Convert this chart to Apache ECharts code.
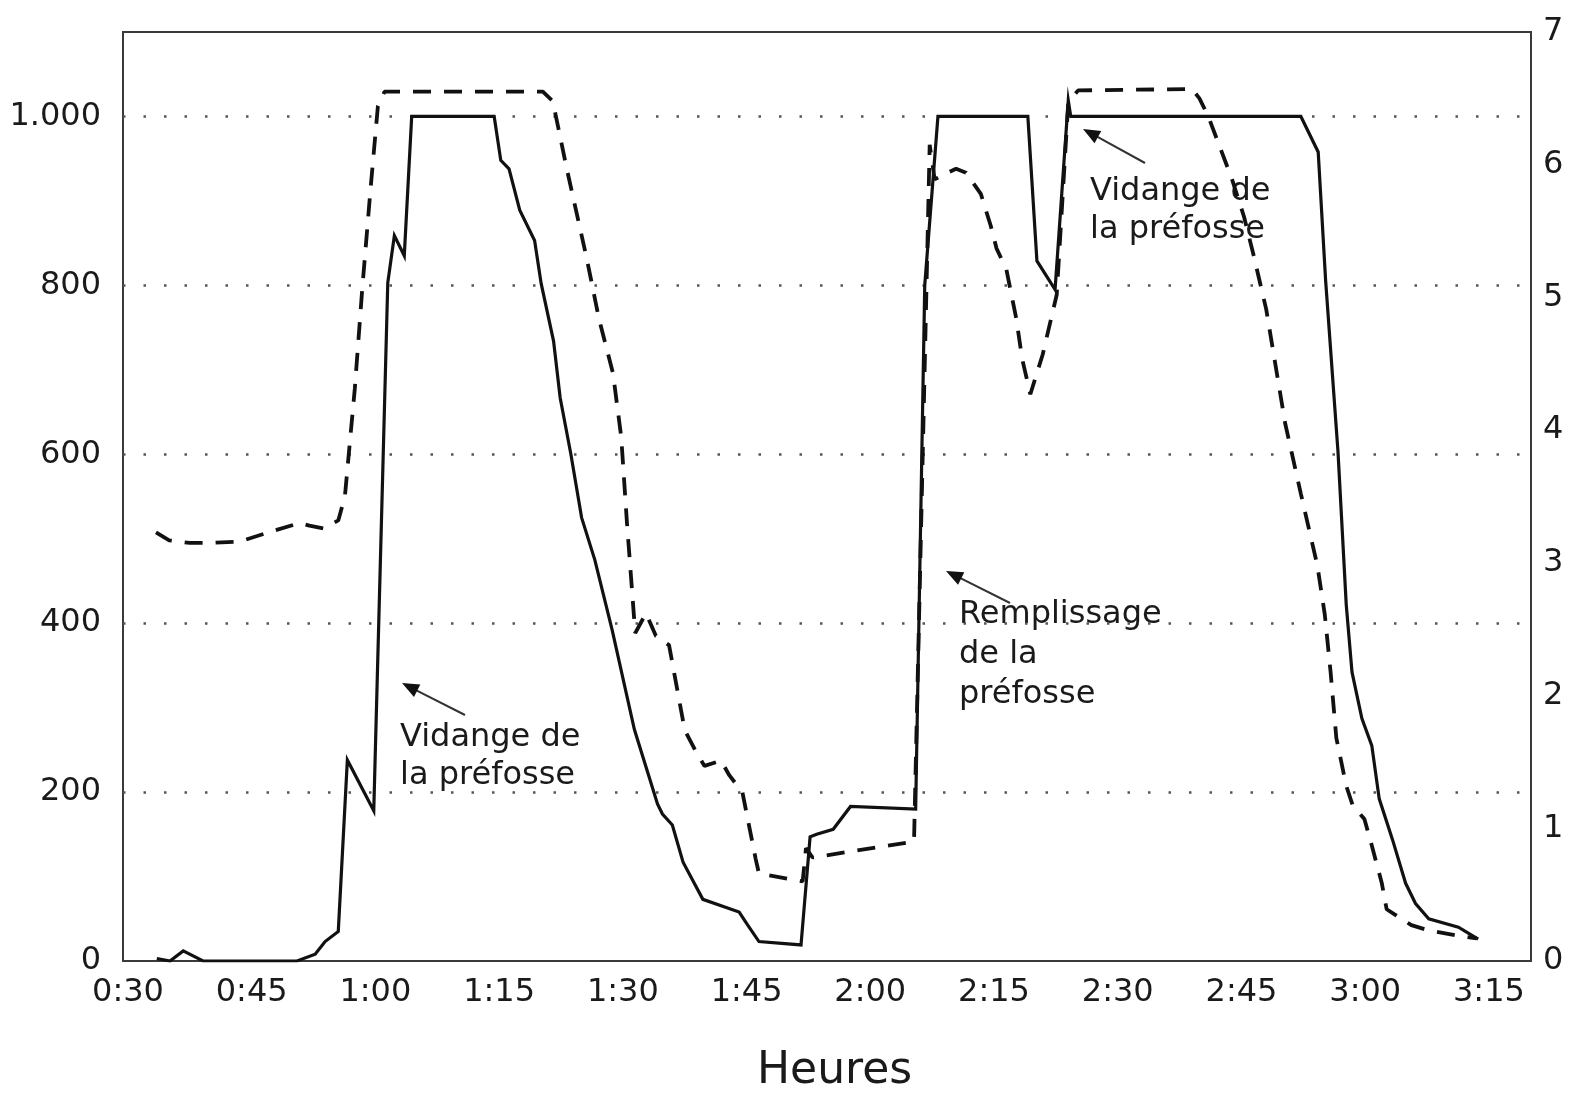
<!DOCTYPE html>
<html>
<head>
<meta charset="utf-8">
<script src="https://cdn.jsdelivr.net/npm/echarts@6/dist/echarts.min.js"></script>
<style>
  html, body { margin: 0; padding: 0; background: #fff; }
  #chart { width: 1575px; height: 1097px; }
</style>
</head>
<body>
<div id="chart"></div>
<script>
// ---- Data (time in minutes since 0:00) ----
// Solid line (left axis)
const solidTime  = [33.5, 35.1, 36.7, 39.1, 48.2, 50.5, 52.7, 53.9, 55.5, 56.6, 59.8, 61.5, 62.3, 63.5, 64.4, 74.4, 75.2, 76.2, 77.5, 79.3, 80.1, 81.6, 82.4, 83.7, 85.0, 86.6, 88.7, 91.4, 94.2, 94.8, 96.0, 97.3, 99.7, 104.1, 105.1, 106.5, 111.6, 112.7, 113.5, 115.5, 117.6, 125.5, 126.6, 128.2, 139.1, 140.2, 142.4, 144.0, 144.3, 172.2, 174.3, 175.2, 176.7, 177.7, 178.4, 179.6, 180.8, 181.7, 183.3, 184.9, 186.1, 187.7, 191.3, 193.7];
const solidValue = [3, 0, 12, 0, 0, 0, 8, 23, 35, 238, 178, 803, 859, 835, 1000, 1000, 948, 938, 889, 853, 802, 734, 667, 600, 525, 475, 392, 274, 186, 174, 161, 117, 73, 58, 43, 23, 19, 147, 150, 156, 183, 180, 800, 1000, 1000, 829, 795, 1019, 1000, 1000, 958, 806, 603, 422, 342, 287, 255, 192, 144, 92, 68, 50, 40, 26];
// Dashed line (right axis)
const dashTime  = [33.4, 35.0, 37.5, 39.5, 43.5, 47.6, 50.8, 52.0, 53.7, 55.5, 56.3, 57.5, 58.4, 59.4, 60.3, 61.1, 80.3, 81.5, 83.2, 85.6, 87.1, 88.8, 89.8, 90.5, 91.2, 91.5, 92.8, 94.0, 95.6, 97.5, 99.1, 99.9, 101.9, 102.9, 104.5, 106.1, 106.5, 111.8, 112.2, 113.0, 125.3, 127.2, 127.8, 130.4, 131.6, 133.4, 134.6, 135.3, 136.5, 137.7, 138.4, 139.4, 140.9, 142.6, 144.0, 145.2, 159.0, 159.9, 161.0, 163.8, 165.3, 166.5, 168.0, 170.3, 172.2, 174.2, 175.1, 175.8, 176.5, 177.7, 178.5, 179.9, 180.8, 182.0, 182.6, 183.6, 185.6, 187.7, 191.3, 193.5];
const dashValue = [3.23, 3.17, 3.15, 3.15, 3.16, 3.24, 3.30, 3.28, 3.26, 3.32, 3.5, 4.31, 5.06, 5.81, 6.44, 6.55, 6.55, 6.48, 5.97, 5.30, 4.84, 4.43, 3.95, 3.30, 2.72, 2.47, 2.62, 2.45, 2.38, 1.74, 1.55, 1.47, 1.51, 1.40, 1.27, 0.77, 0.66, 0.60, 0.85, 0.78, 0.90, 6.15, 5.89, 5.97, 5.94, 5.78, 5.54, 5.37, 5.21, 4.84, 4.54, 4.27, 4.57, 5.02, 6.47, 6.56, 6.57, 6.50, 6.36, 5.90, 5.61, 5.31, 4.91, 4.05, 3.52, 2.98, 2.61, 2.18, 1.68, 1.32, 1.17, 1.07, 0.87, 0.59, 0.39, 0.35, 0.27, 0.23, 0.19, 0.17];
// Tick labels
const xTickMinutes = [30, 45, 60, 75, 90, 105, 120, 135, 150, 165, 180, 195];
const leftTicks = [0, 200, 400, 600, 800, 1000];
const rightTicks = [0, 1, 2, 3, 4, 5, 6, 7];
const xAxisTitle = 'Heures';
const notes = [
  { text: 'Vidange de\nla préfosse', lineH: 38 },
  { text: 'Remplissage\nde la\npréfosse', lineH: 40 },
  { text: 'Vidange de\nla préfosse', lineH: 38 }
];

const FONT = '"DejaVu Sans", sans-serif';
const INK = '#1a1a1a';

function fmtTime(m) {
  const h = Math.floor(m / 60), mm = Math.round(m % 60);
  return h + ':' + String(mm).padStart(2, '0');
}
function fmtLeft(v) {
  if (leftTicks.indexOf(v) < 0) return '';
  return v >= 1000 ? String(v).replace(/\B(?=(\d{3})+(?!\d))/g, '.') : String(v);
}

function arrow(x1, y1, x2, y2) {
  const dx = x2 - x1, dy = y2 - y1, L = Math.hypot(dx, dy);
  const ux = dx / L, uy = dy / L, hl = 17, hw = 7;
  const bx = x2 - ux * hl, by = y2 - uy * hl;
  return [
    { type: 'line', shape: { x1: x1, y1: y1, x2: bx + ux * 2, y2: by + uy * 2 }, style: { stroke: '#333', lineWidth: 2 } },
    { type: 'polygon', shape: { points: [[x2, y2], [bx - uy * hw, by + ux * hw], [bx + uy * hw, by - ux * hw]] }, style: { fill: '#111' } }
  ];
}

const notePos = [[400, 719], [959, 595], [1090, 173]];
const graphics = [];
notes.forEach((n, i) => {
  graphics.push({
    type: 'text', left: notePos[i][0], top: notePos[i][1],
    style: { text: n.text, font: '32px ' + FONT, fill: INK, lineHeight: n.lineH }
  });
});
graphics.push(...arrow(465, 715, 402, 683));
graphics.push(...arrow(1010, 603, 946, 571));
graphics.push(...arrow(1145, 163, 1083, 129));
graphics.push({
  type: 'text', left: 757, top: 1050,
  style: { text: xAxisTitle, font: '44px ' + FONT, fill: INK }
});

const chart = echarts.init(document.getElementById('chart'), null, { renderer: 'canvas' });
chart.setOption({
  animation: false,
  backgroundColor: '#ffffff',
  grid: { left: 123, right: 44, top: 32, bottom: 136, show: true, borderColor: '#3a3a3a', borderWidth: 2, backgroundColor: 'transparent' },
  xAxis: {
    type: 'value', min: 29.4, max: 200.1,
    axisLine: { show: false }, axisTick: { show: false }, splitLine: { show: false },
    axisLabel: {
      customValues: xTickMinutes, formatter: fmtTime,
      fontFamily: 'DejaVu Sans', fontSize: 32, color: INK, margin: 16
    }
  },
  yAxis: [
    {
      type: 'value', min: 0, max: 1100, interval: 200, position: 'left',
      axisLine: { show: false }, axisTick: { show: false },
      axisLabel: { formatter: fmtLeft, fontFamily: 'DejaVu Sans', fontSize: 32, color: INK, margin: 22 },
      splitLine: { show: true, showMinLine: false, showMaxLine: false, lineStyle: { type: [2.5, 18], color: '#555', width: 2.6 } }
    },
    {
      type: 'value', min: 0, max: 7, interval: 1, position: 'right',
      axisLine: { show: false }, axisTick: { show: false },
      axisLabel: { fontFamily: 'DejaVu Sans', fontSize: 32, color: INK, margin: 12,
        formatter: v => rightTicks.indexOf(v) >= 0 ? String(v) : '' },
      splitLine: { show: false }
    }
  ],
  series: [
    {
      type: 'line', yAxisIndex: 0, symbol: 'none', smooth: false,
      data: solidTime.map((t, i) => [t, solidValue[i]]),
      lineStyle: { color: '#111', width: 3.2, type: 'solid', join: 'miter' }
    },
    {
      type: 'line', yAxisIndex: 1, symbol: 'none', smooth: false,
      data: dashTime.map((t, i) => [t, dashValue[i]]),
      lineStyle: { color: '#111', width: 3.8, type: [18, 13] }
    }
  ],
  graphic: graphics
});
</script>
</body>
</html>
